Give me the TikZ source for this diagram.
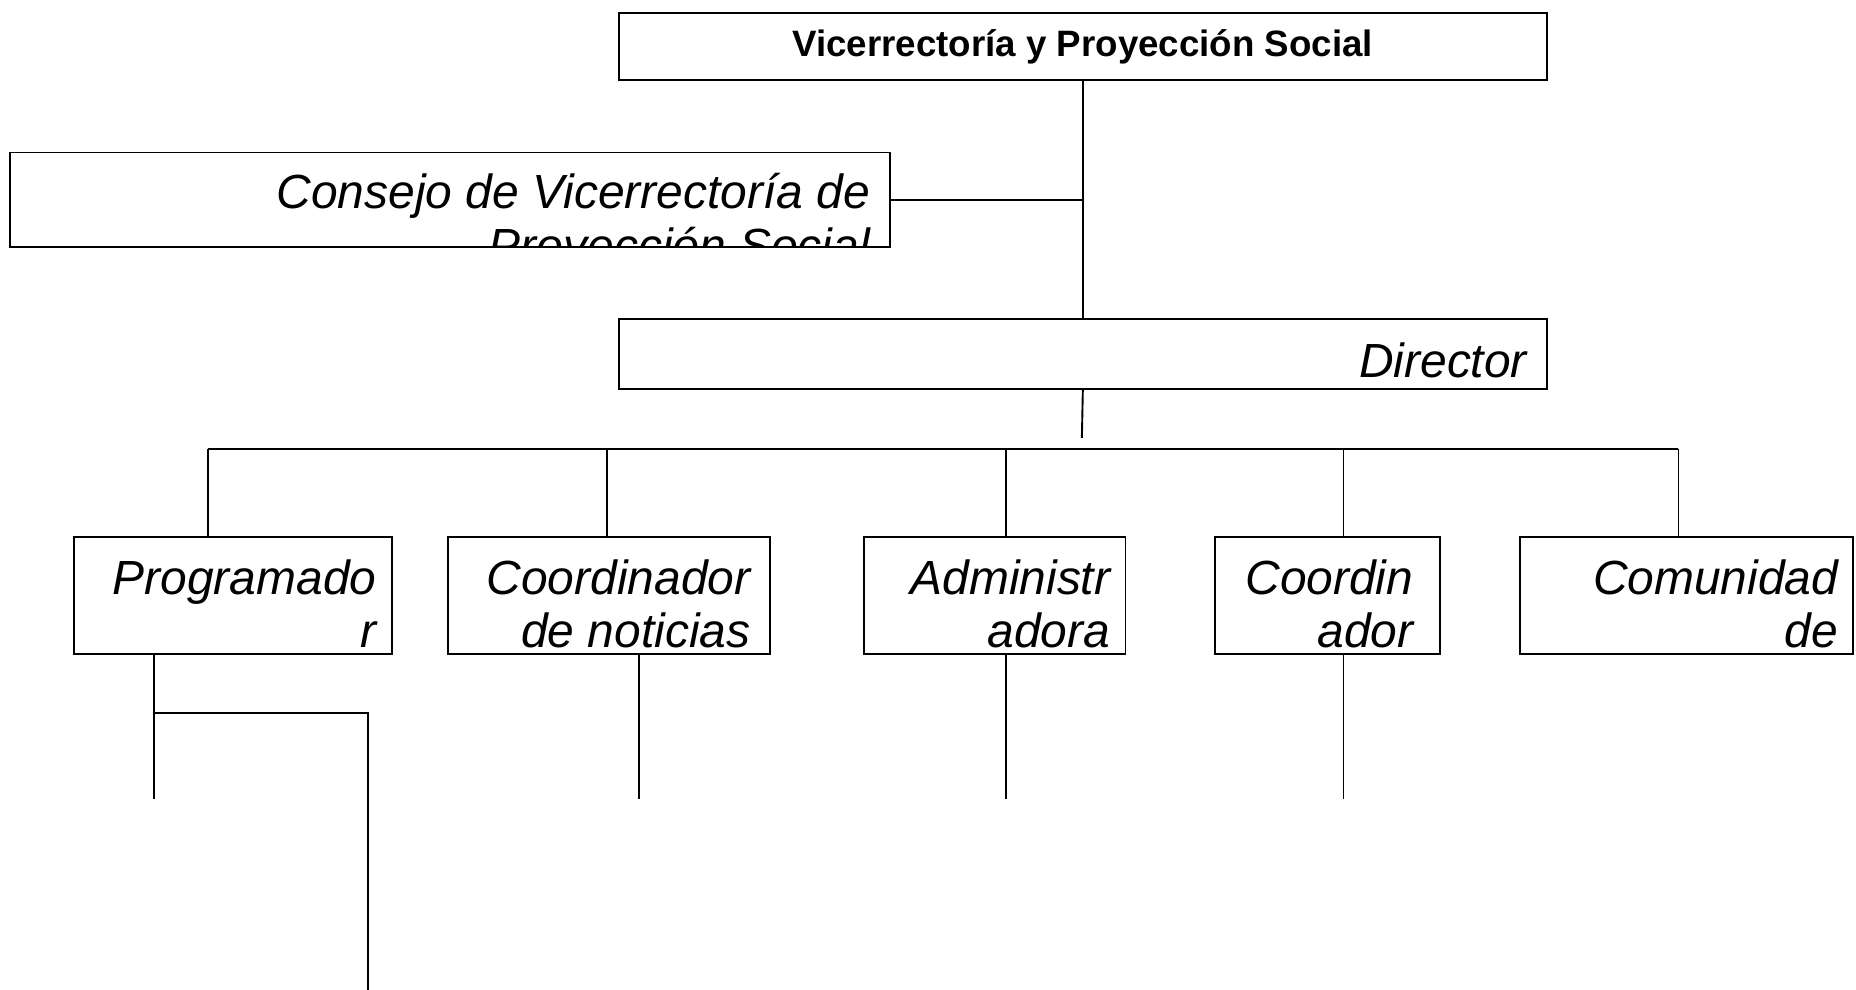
\documentclass[tikz,border=0pt]{standalone}
\usepackage{fontspec}
\setmainfont{Liberation Sans}
\begin{document}
\begin{tikzpicture}[x=1pt,y=-1pt,
  box/.style={draw, line width=1.6pt, rectangle, inner sep=0pt, anchor=north west},
  lbl/.style={draw=none, minimum width=0pt, minimum height=0pt, path picture={},
    font=\fontsize{40.5}{45}\selectfont\itshape, align=right, inner sep=0pt, anchor=north east},
  ln/.style={line width=1.6pt},
]
\useasboundingbox[fill=white] (0,0) rectangle (1568,836);
% top
\node[box, minimum width=784pt, minimum height=57pt, font=\fontsize{31}{36}\selectfont\bfseries] (vr) at (522,10) {Vicerrectoría y Proyección Social};
\node[box, minimum width=743pt, minimum height=80pt,
  path picture={\node[lbl] at ([xshift=-16pt,yshift=-17pt]path picture bounding box.north east) {Consejo de Vicerrectoría de\\Proyección Social};}] (cv) at (8,128) {};
\node[box, minimum width=784pt, minimum height=59pt,
  path picture={\node[lbl] at ([xshift=-16pt,yshift=-19pt]path picture bounding box.north east) {Director};}] (dir) at (522,269) {};
% children
\node[box, minimum width=268pt, minimum height=99pt,
  path picture={\node[lbl] at ([xshift=-12pt,yshift=-18pt]path picture bounding box.north east) {Programado\\r};}] (p1) at (62,453) {};
\node[box, minimum width=272pt, minimum height=99pt,
  path picture={\node[lbl] at ([xshift=-16pt,yshift=-18pt]path picture bounding box.north east) {Coordinador\\de noticias};}] (p2) at (378,453) {};
\node[box, minimum width=221pt, minimum height=99pt,
  path picture={\node[lbl] at ([xshift=-12pt,yshift=-18pt]path picture bounding box.north east) {Administr\\adora};}] (p3) at (729,453) {};
\node[box, minimum width=190pt, minimum height=99pt,
  path picture={\node[lbl] at ([xshift=-22pt,yshift=-18pt]path picture bounding box.north east) {Coordin\\ador};}] (p4) at (1026,453) {};
\node[box, minimum width=282pt, minimum height=99pt,
  path picture={\node[lbl] at ([xshift=-12pt,yshift=-18pt]path picture bounding box.north east) {Comunidad\\de};}] (p5) at (1283,453) {};
% connectors
\draw[ln] (vr.south) -- (dir.north);
\draw[ln] (cv.east) -- (cv.east -| vr.south);
\coordinate (dtail) at (914,370);
\draw[ln] (dir.south) -- (dtail);
\coordinate (d1) at (176,379);
\coordinate (d2) at (513,379);
\coordinate (d3) at (850,379);
\coordinate (d4) at (1135,379);
\coordinate (d5) at (1418,379);
\draw[ln] (d1) -- (d5);
\draw[ln] (d1) -- (d1 |- p1.north);
\draw[ln] (d2) -- (d2 |- p2.north);
\draw[ln] (d3) -- (d3 |- p3.north);
\draw[ln] (d4) -- (d4 |- p4.north);
\draw[ln] (d5) -- (d5 |- p5.north);
\coordinate (e1) at (130,675);
\coordinate (e2) at (540,675);
\coordinate (e3) at (850,675);
\coordinate (e4) at (1135,675);
\draw[ln] (e1 |- p1.south) -- (e1);
\draw[ln] (e2 |- p2.south) -- (e2);
\draw[ln] (e3 |- p3.south) -- (e3);
\draw[ln] (e4 |- p4.south) -- (e4);
\coordinate (f1) at (130,602);
\coordinate (f2) at (311,602);
\coordinate (f3) at (311,836);
\draw[ln] (f1) -- (f2) -- (f3);
\end{tikzpicture}
\end{document}
